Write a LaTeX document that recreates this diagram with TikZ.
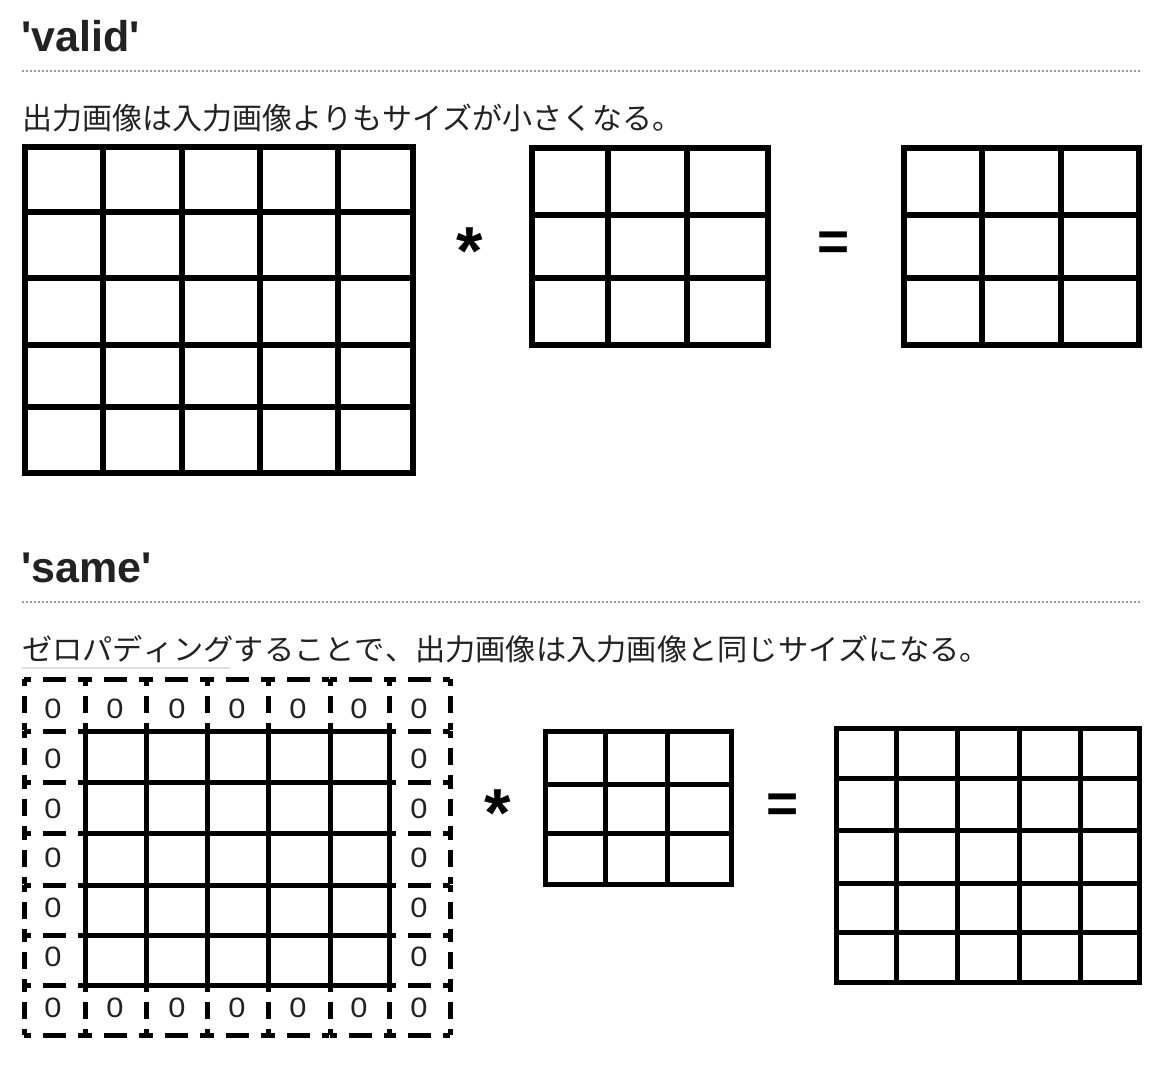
\documentclass[tikz,border=0pt]{standalone}
\usepackage{fontspec}
\newfontfamily\hd{Liberation Sans}
\newfontfamily\jp{Noto Sans CJK JP}[Kerning=Off]
\definecolor{ink}{HTML}{222222}
\definecolor{dotgray}{HTML}{9A9A9A}
\definecolor{ulgray}{HTML}{DDDDDD}
\tikzset{
  heading/.style={anchor=base west, inner sep=0pt, text=ink, font={\hd\bfseries\fontsize{43}{50}\selectfont}},
  caption/.style={anchor=base west, inner sep=0pt, text=ink, font={\jp\fontsize{30}{34}\selectfont}},
  captionb/.style={anchor=base west, inner sep=0pt, text=ink, font={\jp\fontsize{29.5}{34}\selectfont}},
  sepline/.style={dotgray, line width=1.6pt, dash pattern=on 1.8pt off 2.2pt},
  ulline/.style={ulgray, line width=2pt},
  gridA/.style={black, line width=6pt},
  gridB/.style={black, line width=5pt},
  padh/.style={black, line width=5pt, dash pattern=on 7pt off 12pt on 23pt off 12pt},
  padv/.style={black, line width=5pt, dash pattern=on 7pt off 10pt on 17pt off 10pt},
  zero/.style={inner sep=0pt, text=ink, font={\hd\fontsize{28}{30}\selectfont}},
  astx/.style={anchor=base, inner sep=0pt, text=black, font={\hd\bfseries\fontsize{68}{70}\selectfont}},
  eqx/.style={anchor=base, inner sep=0pt, text=black, font={\hd\bfseries\fontsize{55}{60}\selectfont}}
}
\begin{document}
\begin{tikzpicture}[x=1pt,y=-1pt]
\useasboundingbox (0,0) rectangle (1176,1074);
\fill[white] (0,0) rectangle (1176,1074);

% ---------- 'valid' ----------
\node[heading] (hvalid) at (21.5,51) {'valid'};
\coordinate (s1a) at (22,71);
\coordinate (s1b) at (1142,71);
\draw[sepline] (s1a) -- (s1b);
\node[caption] (cvalid) at (22,129) {出力画像は入力画像よりもサイズが小さくなる。};

% input 5x5
\draw[gridA] (25,147) rectangle (413,473);
\foreach \x in {103,182,260,338} \draw[gridA] (\x,147) -- (\x,473);
\foreach \y in {212,278,345,407} \draw[gridA] (25,\y) -- (413,\y);

\node[astx] (ast1) at (470,274) {*};

% kernel 3x3
\draw[gridA] (532,148) rectangle (768,345);
\foreach \x in {608,687} \draw[gridA] (\x,148) -- (\x,345);
\foreach \y in {215,278} \draw[gridA] (532,\y) -- (768,\y);

\node[eqx] (eq1) at (834,260) {=};

% output 3x3
\draw[gridA] (904,148) rectangle (1139,345);
\foreach \x in {982,1061} \draw[gridA] (\x,148) -- (\x,345);
\foreach \y in {215,278} \draw[gridA] (904,\y) -- (1139,\y);

% ---------- 'same' ----------
\node[heading] (hsame) at (21.5,582) {'same'};
\coordinate (s2a) at (22,602);
\coordinate (s2b) at (1142,602);
\draw[sepline] (s2a) -- (s2b);
\node[captionb] (csame) at (22,660) {\scalebox{1.025}[1]{ゼロパディングすることで、出力画像は入力画像と同じサイズになる。}};
\coordinate (ula) at (22,668);
\coordinate (ulb) at (230,668);
\draw[ulline] (ula) -- (ulb);

% padded 7x7: dashed padding borders
\foreach \a/\b in {24/85,85/146,146/207,207/268,268/330,330/389,389/450}{
  \draw[padh] (\a,679) -- (\b,679);
  \draw[padh] (\a,1035) -- (\b,1035);
}
\foreach \a/\b in {679/731,731/782,782/833,833/885,885/935,935/985,985/1035}{
  \draw[padv] (24,\a) -- (24,\b);
  \draw[padv] (450,\a) -- (450,\b);
}
\foreach \x in {85,146,207,268,330,389}{
  \draw[padv] (\x,679) -- (\x,731);
  \draw[padv] (\x,985) -- (\x,1035);
}
\foreach \y in {731,782,833,885,935,985}{
  \draw[padh] (24,\y) -- (85,\y);
  \draw[padh] (389,\y) -- (450,\y);
}
% inner solid 5x5
\draw[gridB] (85,731) rectangle (389,985);
\foreach \x in {146,207,268,330} \draw[gridB] (\x,731) -- (\x,985);
\foreach \y in {782,833,885,935} \draw[gridB] (85,\y) -- (389,\y);

% zeros
\foreach \x [count=\i] in {53,115,177,237,298,359,419}{
  \node[zero] (zt\i) at (\x,709) {\scalebox{1.1}[1]{0}};
  \node[zero] (zb\i) at (\x,1008) {\scalebox{1.1}[1]{0}};
}
\foreach \y [count=\i] in {759,809,858,908,957}{
  \node[zero] (zl\i) at (53,\y) {\scalebox{1.1}[1]{0}};
  \node[zero] (zr\i) at (419,\y) {\scalebox{1.1}[1]{0}};
}

\node[astx] (ast2) at (498,836) {*};

% kernel 3x3
\draw[gridB] (545,731) rectangle (731,884);
\foreach \x in {605,667} \draw[gridB] (\x,731) -- (\x,884);
\foreach \y in {784,833} \draw[gridB] (545,\y) -- (731,\y);

\node[eqx] (eq2) at (783,822) {=};

% output 5x5
\draw[gridB] (836,728) rectangle (1139,982);
\foreach \x in {896,957,1019,1080} \draw[gridB] (\x,728) -- (\x,982);
\foreach \y in {778,830,883,932} \draw[gridB] (836,\y) -- (1139,\y);
\end{tikzpicture}
\end{document}
